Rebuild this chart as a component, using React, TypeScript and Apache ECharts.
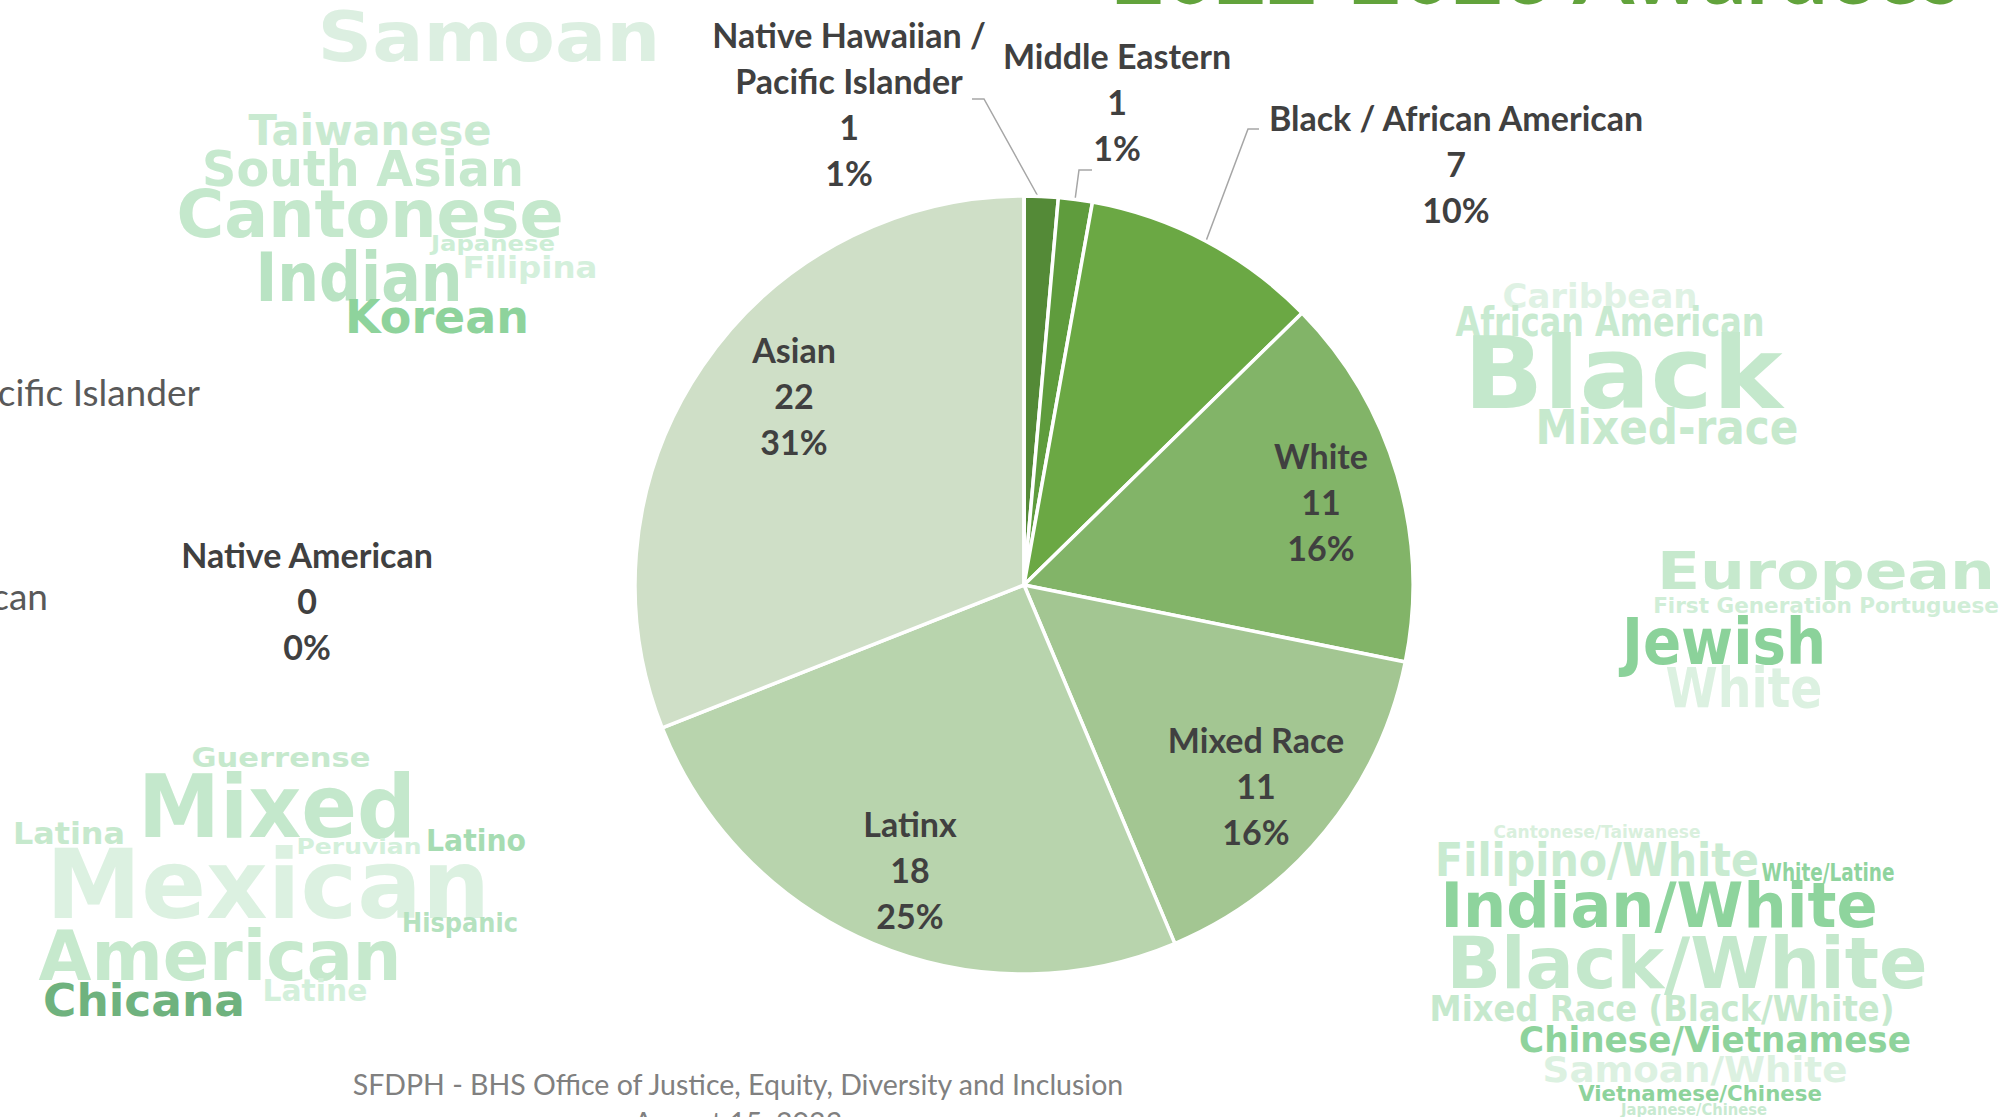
import React, { useEffect, useRef } from 'react';
import * as echarts from 'echarts';

// ---------- data ----------
const categories = [
  'Native Hawaiian / Pacific Islander',
  'Middle Eastern',
  'Black / African American',
  'White',
  'Mixed Race',
  'Latinx',
  'Asian',
  'Native American',
];
const counts = [1, 1, 7, 11, 11, 18, 22, 0];
const sliceColors = ['#548a37', '#5f9c3d', '#6ba844', '#82b468', '#a3c692', '#b8d4ad', '#cfdfc7', '#3e6b28'];

const titleText = '2022-2023 Awardees';
const footerLines = ['SFDPH - BHS Office of Justice, Equity, Diversity and Inclusion', 'August 15, 2023'];
const legendRemnants = ['Native Hawaiian / Pacific Islander', 'Black / African American'];

const cloudWords = [
  // Asian
  'Samoan', 'Taiwanese', 'South Asian', 'Cantonese', 'Japanese', 'Indian', 'Filipina', 'Korean',
  // Black
  'Caribbean', 'African American', 'Black', 'Mixed-race',
  // White
  'European', 'First Generation Portuguese', 'Jewish', 'White',
  // Mixed race
  'Cantonese/Taiwanese', 'Filipino/White', 'White/Latine', 'Indian/White', 'Black/White',
  'Mixed Race (Black/White)', 'Chinese/Vietnamese', 'Samoan/White', 'Vietnamese/Chinese', 'Japanese/Chinese',
  // Latinx
  'Guerrense', 'Mixed', 'Latina', 'Peruvian', 'Latino', 'Mexican', 'Hispanic', 'American', 'Chicana', 'Latine',
];

// ---------- layout (positions / sizes / styles) ----------
// [centerX, centerY, targetWidth, fontSize, color]
const cloudBoxes: [number, number, number, number, string][] = [
  [489, 37, 343, 70, '#dcefe1'],
  [370, 130, 243, 43, '#c9ead1'],
  [363, 169, 322, 50, '#c6e9ce'],
  [370, 214, 387, 66, '#c4e8cc'],
  [493, 243, 124, 22, '#cdeed6'],
  [359, 277, 207, 68, '#b9e3c3'],
  [530, 267, 135, 30, '#d4f0dc'],
  [437, 317, 184, 47, '#8ed39c'],

  [1600, 296, 195, 34, '#dff2e4'],
  [1610, 322, 309, 40, '#c8ead0'],
  [1623, 373, 319, 100, '#c4e8cc'],
  [1667, 428, 263, 48, '#c6e9cd'],

  [1826, 571, 338, 52, '#c6e9cd'],
  [1826, 605, 346, 22, '#d0eed7'],
  [1724, 642, 204, 64, '#8bd29a'],
  [1744, 688, 157, 56, '#dcf1e1'],

  [1597, 832, 207, 18, '#d9f0dd'],
  [1597, 860, 324, 46, '#c9ebd1'],
  [1828, 873, 133, 24, '#8fd49e'],
  [1659, 905, 437, 62, '#8ed49d'],
  [1687, 963, 481, 72, '#c4e8cc'],
  [1662, 1008, 465, 36, '#c6e9cd'],
  [1715, 1039, 392, 36, '#8ed39c'],
  [1695, 1070, 305, 36, '#dcf1e1'],
  [1700, 1094, 244, 21, '#8ed39c'],
  [1694, 1110, 146, 15, '#c8ead0'],

  [281, 758, 179, 26, '#c6e9cd'],
  [277, 807, 278, 88, '#c4e8cc'],
  [69, 833, 112, 31, '#c6e9cd'],
  [359, 847, 125, 22, '#d3f0db'],
  [476, 841, 100, 30, '#a6dcb2'],
  [268, 885, 444, 96, '#dcf1e1'],
  [460, 923, 116, 26, '#b5e2bf'],
  [220, 956, 363, 70, '#c6e9cd'],
  [144, 1001, 202, 44, '#6fb27e'],
  [315, 990, 105, 30, '#d3f0db'],
];

const labelCenters: [number, number][] = [
  [849, 103], [1117, 101], [1456, 163], [1321, 501], [1256, 785], [910, 869], [794, 395], [307, 600],
];
const labelLinePts: Record<number, number[][]> = {
  0: [[1040, 200], [984, 99], [972, 99]],
  1: [[1075, 200], [1079, 170], [1092, 170]],
  2: [[1206, 241], [1248, 129], [1259, 129]],
};

function measure(text: string, fontSize: number, family: string, weight: string) {
  const c = document.createElement('canvas');
  const ctx = c.getContext('2d')!;
  ctx.font = `${weight} ${fontSize}px ${family}`;
  return ctx.measureText(text).width || 1;
}

export default function App() {
  const ref = useRef<HTMLDivElement>(null);

  useEffect(() => {
    document.body.style.margin = '0';
    document.body.style.overflow = 'hidden';
    const chart = echarts.init(ref.current!, null, { renderer: 'svg' });

    const cloudFamily = '"DejaVu Sans"';
    const cloudEls = cloudWords.map((w, i) => {
      const [cx, cy, tw, fs, color] = cloudBoxes[i];
      const sx = tw / measure(w, fs, cloudFamily, 'bold');
      return {
        type: 'text',
        x: cx,
        y: cy,
        scaleX: sx,
        silent: true,
        z: 1,
        style: {
          text: w,
          fill: color,
          fontSize: fs,
          fontFamily: 'DejaVu Sans',
          fontWeight: 'bold',
          align: 'center',
          verticalAlign: 'middle',
        },
      };
    });

    const titleFs = 96;
    const titleScale = 850 / measure(titleText, titleFs, 'Lato', 'bold');

    const plainText = (text: string, x: number, y: number, fs: number, fill: string, align: string) => ({
      type: 'text',
      x,
      y,
      silent: true,
      style: { text, fill, fontSize: fs, fontFamily: 'Lato', align, verticalAlign: 'middle' },
    });

    const graphics: any[] = [
      ...cloudEls,
      {
        type: 'text',
        x: 1537,
        y: 1.5 - 0.36 * titleFs,
        scaleX: titleScale,
        silent: true,
        style: {
          text: titleText,
          fill: '#62a33c',
          fontSize: titleFs,
          fontFamily: 'Lato',
          fontWeight: 'bold',
          align: 'center',
          verticalAlign: 'middle',
        },
      },
      plainText(footerLines[0], 738, 1084, 28.5, '#808080', 'center'),
      plainText(footerLines[1], 738, 1122, 28.5, '#808080', 'center'),
      plainText(legendRemnants[0], 200, 391, 37, '#595959', 'right'),
      plainText(legendRemnants[1], 48, 595, 37, '#595959', 'right'),
    ];

    const data = categories.map((name, i) => {
      const item: any = {
        name,
        value: counts[i],
        itemStyle: { color: sliceColors[i] },
      };
      if (i === 0) {
        item.label = { formatter: 'Native Hawaiian /\nPacific Islander\n{c}\n{d}%' };
      }
      if (!labelLinePts[i]) {
        item.labelLine = { show: false };
      }
      return item;
    });

    chart.setOption({
      animation: false,
      backgroundColor: '#ffffff',
      graphic: { elements: graphics },
      series: [
        {
          type: 'pie',
          center: [1024, 585],
          radius: 389,
          startAngle: 90,
          clockwise: true,
          avoidLabelOverlap: false,
          percentPrecision: 0,
          minShowLabelAngle: 0,
          z: 3,
          itemStyle: { borderColor: '#ffffff', borderWidth: 3.5 },
          label: {
            show: true,
            position: 'outside',
            formatter: '{b}\n{c}\n{d}%',
            color: '#404040',
            fontFamily: 'Lato',
            fontWeight: 'bold',
            fontSize: 34,
            lineHeight: 46,
            align: 'center',
          },
          labelLine: {
            show: true,
            lineStyle: { color: '#a6a6a6', width: 1.5 },
          },
          labelLayout: (params: any) => {
            const i = params.dataIndex;
            const [x, y] = labelCenters[i];
            const res: any = { x, y, align: 'center', verticalAlign: 'middle' };
            if (labelLinePts[i]) res.labelLinePoints = labelLinePts[i];
            return res;
          },
          emphasis: { disabled: true },
          data,
        },
      ],
    });

    return () => chart.dispose();
  }, []);

  return <div ref={ref} style={{ width: 2002, height: 1117 }} />;
}
